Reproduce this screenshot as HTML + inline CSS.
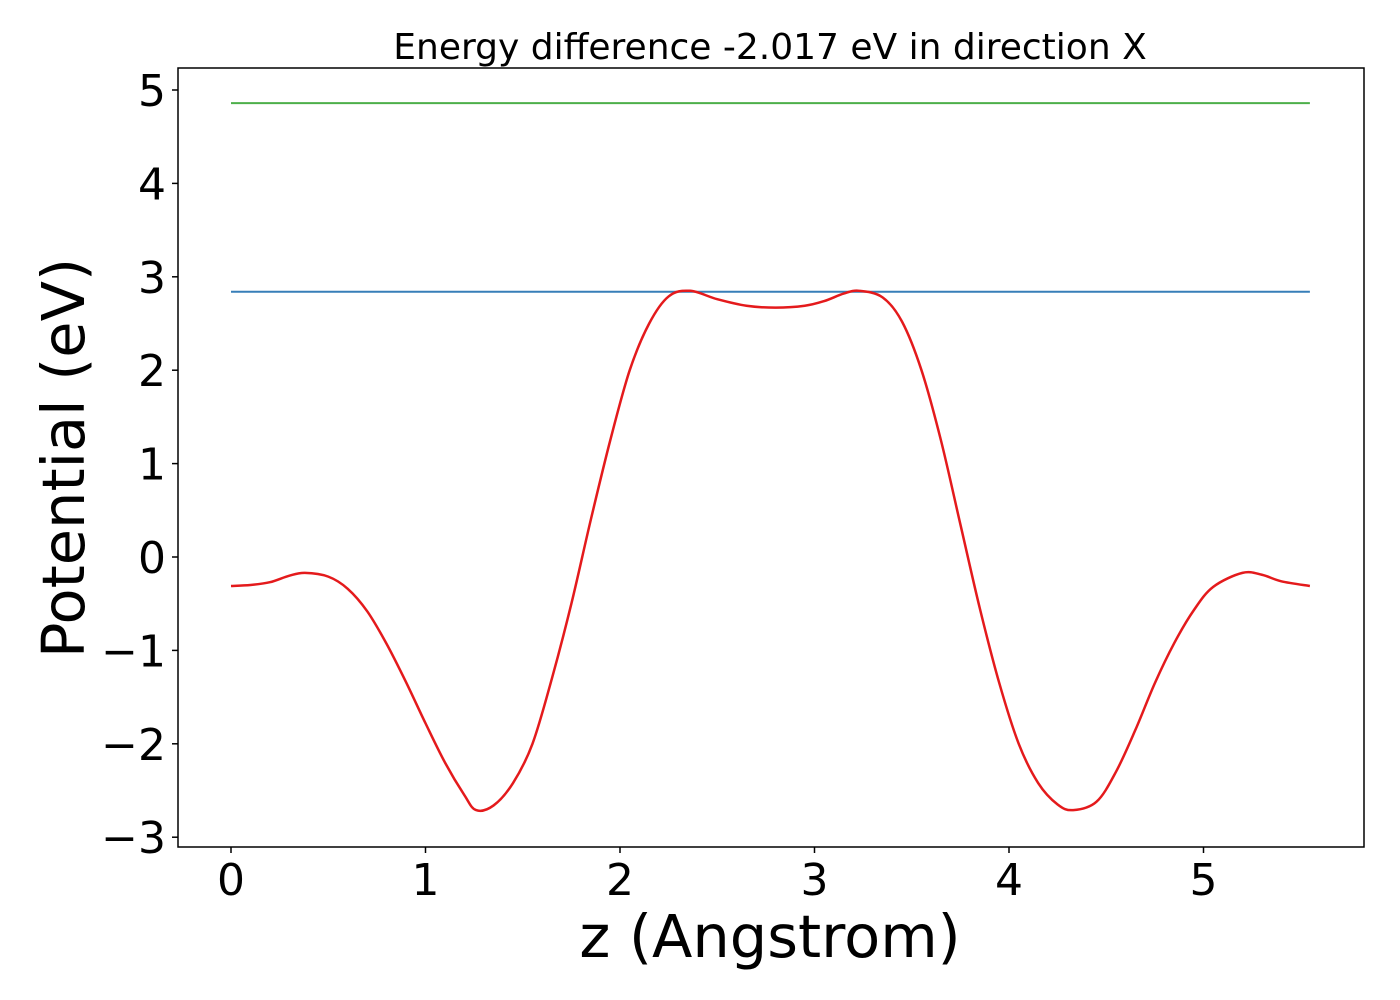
<!DOCTYPE html>
<html><head><meta charset="utf-8"><style>
html,body{margin:0;padding:0;background:#fff;}
svg{display:block;font-family:"DejaVu Sans","Liberation Sans",sans-serif;}
</style></head><body>
<svg id="chart" width="1400" height="1000">
<text x="770" y="59" font-size="36" text-anchor="middle">Energy difference -2.017 eV in direction X</text>
<text x="770" y="957" font-size="59" text-anchor="middle">z (Angstrom)</text>
<text transform="translate(84,458) rotate(-90)" font-size="59" text-anchor="middle">Potential (eV)</text>
<g id="plot"></g>
</svg>
<script>
const xs=[0,0.1,0.2,0.3,0.38,0.5,0.6,0.7,0.8,0.9,1.0,1.1,1.2,1.26,1.35,1.45,1.55,1.65,1.75,1.85,1.95,2.05,2.15,2.25,2.36,2.5,2.65,2.8,2.95,3.05,3.15,3.23,3.35,3.45,3.55,3.65,3.75,3.85,3.95,4.05,4.15,4.25,4.33,4.45,4.55,4.65,4.75,4.85,4.95,5.05,5.2,5.3,5.4,5.547];
const potential=[-0.31,-0.30,-0.27,-0.20,-0.17,-0.21,-0.34,-0.58,-0.93,-1.34,-1.78,-2.2,-2.55,-2.71,-2.66,-2.42,-2.0,-1.3,-0.5,0.4,1.25,2.0,2.5,2.79,2.85,2.76,2.69,2.67,2.69,2.74,2.82,2.85,2.78,2.52,2.0,1.25,0.35,-0.55,-1.35,-2.0,-2.42,-2.65,-2.71,-2.62,-2.3,-1.85,-1.35,-0.92,-0.57,-0.32,-0.17,-0.19,-0.26,-0.31];
const hlines=[4.86,2.84];
const hcolors=["#4daf4a","#377eb8"];
const xTicks=[0,1,2,3,4,5];
const yTicks=[-3,-2,-1,0,1,2,3,4,5];
const xMax=5.547;
const L=178,R=1364,T=68,B=847;
const sx=v=>231+v*194.5;
const sy=v=>557-v*93.4;
const NS="http://www.w3.org/2000/svg";
const g=document.getElementById('plot');
function mk(t,a){const e=document.createElementNS(NS,t);for(const k in a)e.setAttribute(k,a[k]);g.appendChild(e);return e;}
hlines.forEach((h,i)=>{
 const l=mk('line',{x1:sx(0),x2:sx(xMax),y1:sy(h),y2:sy(h),stroke:hcolors[i],'stroke-width':2});
 
 
});
const pts=xs.map((x,i)=>[sx(x),sy(potential[i])]);
let d='M'+pts[0][0]+','+pts[0][1];
for(let i=0;i<pts.length-1;i++){
 const p0=pts[Math.max(0,i-1)],p1=pts[i],p2=pts[i+1],p3=pts[Math.min(pts.length-1,i+2)];
 const c1=[p1[0]+(p2[0]-p0[0])/6,p1[1]+(p2[1]-p0[1])/6];
 const c2=[p2[0]-(p3[0]-p1[0])/6,p2[1]-(p3[1]-p1[1])/6];
 d+=` C${c1[0]},${c1[1]} ${c2[0]},${c2[1]} ${p2[0]},${p2[1]}`;
}
const curve=mk('path',{d:d,fill:'none',stroke:'#e41a1c','stroke-width':2.5,'stroke-linejoin':'round'});


const frame=mk('rect',{x:L,y:T,width:R-L,height:B-T,fill:'none',stroke:'#000','stroke-width':1.5});


xTicks.forEach(v=>{
 const t=mk('line',{x1:sx(v),x2:sx(v),y1:B,y2:B+6,stroke:'#000','stroke-width':1.5});
 
 
 const tx=mk('text',{x:sx(v),y:B+48,'font-size':44,'text-anchor':'middle'});
 tx.textContent=v;
 
 
});
yTicks.forEach(v=>{
 const t=mk('line',{x1:L-6,x2:L,y1:sy(v),y2:sy(v),stroke:'#000','stroke-width':1.5});
 
 
 const tx=mk('text',{x:L-12,y:sy(v)+16,'font-size':44,'text-anchor':'end'});
 tx.textContent=v<0?'\u2212'+(-v):v;
 
 
});
</script>
</body></html>
